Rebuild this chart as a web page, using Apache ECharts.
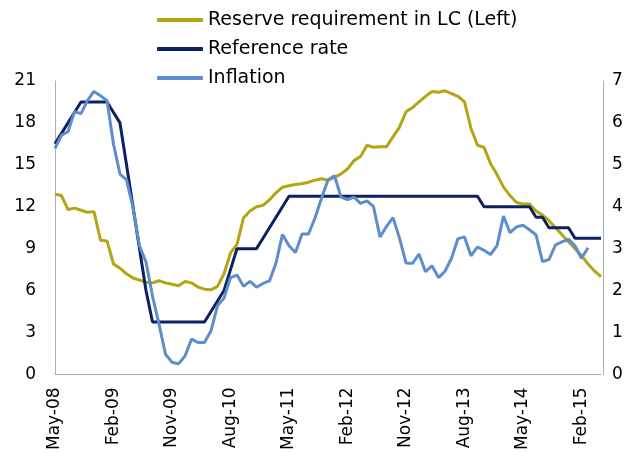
<!DOCTYPE html>
<html><head><meta charset="utf-8">
<script src="https://cdn.jsdelivr.net/npm/echarts@6/dist/echarts.min.js"></script>
<style>html,body{margin:0;padding:0;background:#fff}#c{width:631px;height:453px}</style>
</head><body><div id="c"></div>
<script>
// Monthly categories May-08 .. May-15
const months = [
 'May-08','Jun-08','Jul-08','Aug-08','Sep-08','Oct-08','Nov-08','Dec-08',
 'Jan-09','Feb-09','Mar-09','Apr-09','May-09','Jun-09','Jul-09','Aug-09','Sep-09','Oct-09','Nov-09','Dec-09',
 'Jan-10','Feb-10','Mar-10','Apr-10','May-10','Jun-10','Jul-10','Aug-10','Sep-10','Oct-10','Nov-10','Dec-10',
 'Jan-11','Feb-11','Mar-11','Apr-11','May-11','Jun-11','Jul-11','Aug-11','Sep-11','Oct-11','Nov-11','Dec-11',
 'Jan-12','Feb-12','Mar-12','Apr-12','May-12','Jun-12','Jul-12','Aug-12','Sep-12','Oct-12','Nov-12','Dec-12',
 'Jan-13','Feb-13','Mar-13','Apr-13','May-13','Jun-13','Jul-13','Aug-13','Sep-13','Oct-13','Nov-13','Dec-13',
 'Jan-14','Feb-14','Mar-14','Apr-14','May-14','Jun-14','Jul-14','Aug-14','Sep-14','Oct-14','Nov-14','Dec-14',
 'Jan-15','Feb-15','Mar-15','Apr-15','May-15'
];
// Reserve requirement in LC (left axis, %)
const reserveReq = [
 12.9,12.8,11.8,11.9,11.75,11.6,11.65,9.6,
 9.55,7.9,7.6,7.2,6.9,6.75,6.6,6.55,6.7,6.55,6.45,6.35,
 6.65,6.55,6.25,6.1,6.05,6.3,7.2,8.7,9.3,11.2,11.7,12.0,
 12.1,12.5,13.0,13.4,13.5,13.6,13.65,13.75,13.9,14.0,13.9,14.1,
 14.35,14.7,15.3,15.6,16.4,16.25,16.3,16.3,17.0,17.7,18.8,19.1,
 19.5,19.9,20.25,20.2,20.3,20.1,19.9,19.5,17.6,16.4,16.25,15.1,
 14.3,13.4,12.8,12.3,12.2,12.2,11.7,11.4,11.0,10.5,10.0,9.5,
 9.0,8.5,7.9,7.4,7.0
];
// Reference rate (right axis, %)
const referenceRate = [
 5.5,5.75,6,6.25,6.5,6.5,6.5,6.5,
 6.5,6.25,6,5,4,3,2,1.25,1.25,1.25,1.25,1.25,
 1.25,1.25,1.25,1.25,1.5,1.75,2,2.5,3,3,3,3,
 3.25,3.5,3.75,4,4.25,4.25,4.25,4.25,4.25,4.25,4.25,4.25,
 4.25,4.25,4.25,4.25,4.25,4.25,4.25,4.25,4.25,4.25,4.25,4.25,
 4.25,4.25,4.25,4.25,4.25,4.25,4.25,4.25,4.25,4.25,4,4,
 4,4,4,4,4,4,3.75,3.75,3.5,3.5,3.5,3.5,
 3.25,3.25,3.25,3.25,3.25
];
// Inflation (right axis, %)
const inflation = [
 5.39,5.71,5.79,6.27,6.22,6.54,6.75,6.65,
 6.53,5.49,4.78,4.64,3.98,3.06,2.68,1.87,1.20,0.48,0.29,0.25,
 0.44,0.84,0.76,0.76,1.04,1.64,1.82,2.31,2.37,2.10,2.22,2.08,
 2.17,2.23,2.66,3.34,3.07,2.91,3.35,3.35,3.73,4.20,4.64,4.74,
 4.23,4.17,4.23,4.08,4.14,4.00,3.28,3.53,3.74,3.25,2.66,2.65,
 2.87,2.45,2.59,2.31,2.46,2.77,3.24,3.28,2.83,3.04,2.96,2.86,
 3.07,3.78,3.38,3.52,3.56,3.45,3.33,2.69,2.74,3.09,3.16,3.22,
 3.07,2.77,3.02,null,null
];
const seriesNames = ['Reserve requirement in LC (Left)','Reference rate','Inflation'];
const colors = ['#B3A514','#0C2163','#5D8DCA'];

const FONT = 'DejaVu Sans';
const axisGray = '#B0B0B0';
const chart = echarts.init(document.getElementById('c'), null, {renderer:'canvas'});
chart.setOption({
  animation:false,
  backgroundColor:'#fff',
  textStyle:{fontFamily:FONT},
  legend:{
    orient:'vertical', left:152, top:4, itemGap:7,
    itemWidth:46, itemHeight:4, icon:'roundRect',
    textStyle:{fontFamily:FONT, fontSize:19, color:'#000', lineHeight:22},
    data:seriesNames
  },
  grid:{left:55, right:30, top:81, bottom:76},
  xAxis:{
    type:'category', data:months, boundaryGap:false,
    axisLine:{show:true, lineStyle:{color:axisGray, width:1}},
    axisTick:{show:false},
    axisLabel:{interval:8, rotate:90, fontSize:17, color:'#000', margin:13, fontFamily:FONT},
    splitLine:{show:false}
  },
  yAxis:[
    {type:'value', min:0, max:21, interval:3, position:'left',
     axisLine:{show:true, lineStyle:{color:axisGray}}, axisTick:{show:false},
     axisLabel:{fontSize:17, color:'#000', margin:19, fontFamily:FONT},
     splitLine:{show:false}},
    {type:'value', min:0, max:7, interval:1, position:'right', offset:2,
     axisLine:{show:true, lineStyle:{color:axisGray}}, axisTick:{show:false},
     axisLabel:{fontSize:17, color:'#000', margin:9, fontFamily:FONT},
     splitLine:{show:false}}
  ],
  series:[
    {name:seriesNames[0], type:'line', yAxisIndex:0, data:reserveReq, showSymbol:false, symbol:'none',
     lineStyle:{color:colors[0], width:3}, itemStyle:{color:colors[0]}},
    {name:seriesNames[1], type:'line', yAxisIndex:1, data:referenceRate, showSymbol:false, symbol:'none',
     lineStyle:{color:colors[1], width:3}, itemStyle:{color:colors[1]}},
    {name:seriesNames[2], type:'line', yAxisIndex:1, data:inflation, showSymbol:false, symbol:'none',
     lineStyle:{color:colors[2], width:3}, itemStyle:{color:colors[2]}}
  ]
});
</script>
</body></html>
